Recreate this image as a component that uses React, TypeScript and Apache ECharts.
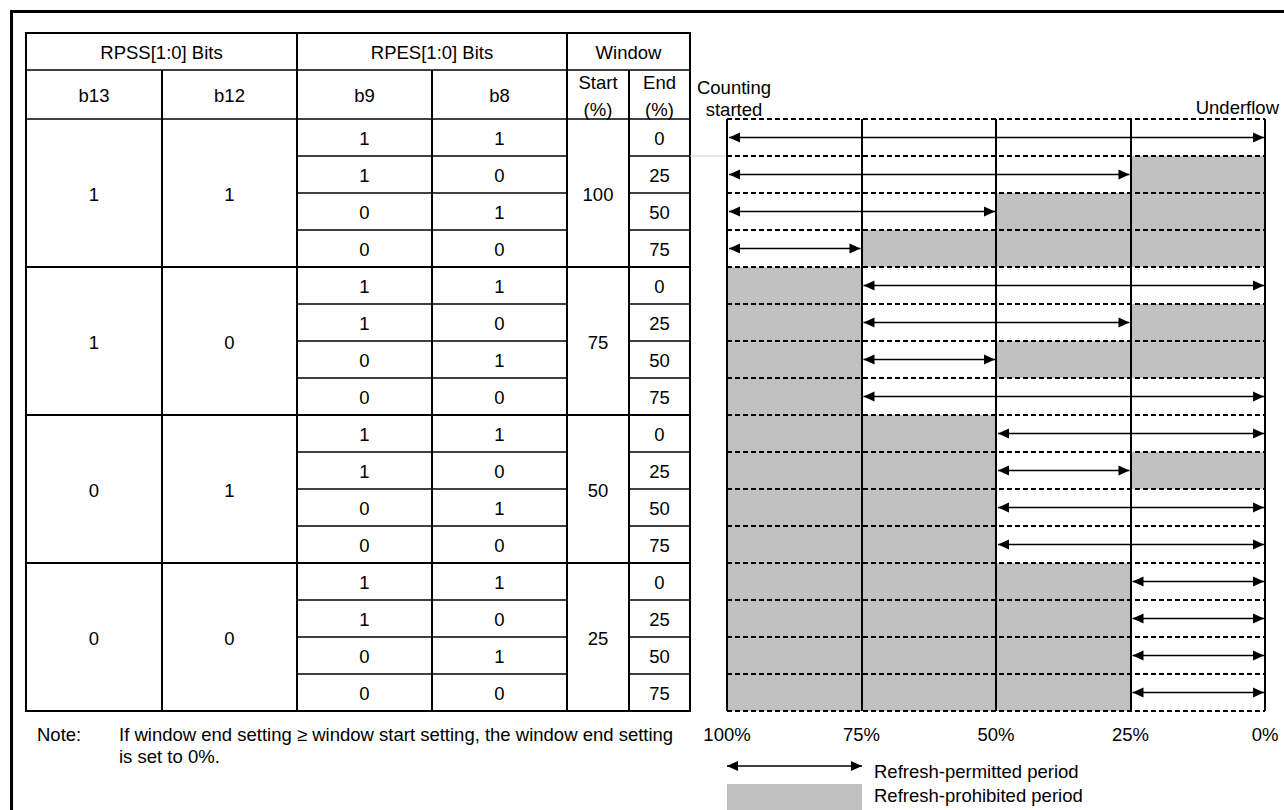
import React, { useEffect, useRef } from "react";
import * as echarts from "echarts";

// ---------- data ----------
const headerTop = ["RPSS[1:0] Bits", "RPES[1:0] Bits", "Window"];
const headerSub = ["b13", "b12", "b9", "b8", "Start\n(%)", "End\n(%)"];
const rpssB13 = [1, 1, 0, 0];
const rpssB12 = [1, 0, 1, 0];
const windowStart = [100, 75, 50, 25];
const rpesB9 = [1, 1, 0, 0];
const rpesB8 = [1, 0, 1, 0];
const windowEnd = [0, 25, 50, 75];
const xTicks = [100, 75, 50, 25, 0];
const legendLabels = ["Refresh-permitted period", "Refresh-prohibited period"];
const noteLines = [
  "If window end setting \u2265 window start setting, the window end setting",
  "is set to 0%.",
];

// ---------- layout ----------
const FONT = "Liberation Sans, Arial, sans-serif";
const FS = 18.5;
const colX = [26, 162, 297, 432, 567, 629, 690];
const T_TOP = 33;
const H1 = 70;
const H2 = 119;
const ROW_H = 37;
const GRID_L = 727;
const GRID_R = 1265;
const GRID_T = 119;
const GRID_H = 592;

// derived rows
type Row = { g: number; s: number; start: number; end: number; eff: number };
const rows: Row[] = [];
windowStart.forEach((st, g) => {
  windowEnd.forEach((en, s) => {
    rows.push({ g, s, start: st, end: en, eff: en >= st ? 0 : en });
  });
});
const rowCats = rows.map((r, i) => `${i}:${r.start}-${r.end}`);
const arrowData = rows.map((r, i) => [i, r.start, r.eff]);
const grayData: number[][] = [];
rows.forEach((r, i) => {
  if (r.start < 100) grayData.push([i, 100, r.start]);
  if (r.eff > 0) grayData.push([i, r.eff, 0]);
});

function txt(text: string, x: number, y: number, align = "center", extra: any = {}) {
  return {
    type: "text",
    x,
    y,
    silent: true,
    style: {
      text,
      fill: "#000",
      fontSize: FS,
      fontFamily: FONT,
      align,
      verticalAlign: "middle",
      ...extra,
    },
  };
}
function ln(x1: number, y1: number, x2: number, y2: number, w = 2, color = "#000") {
  return {
    type: "line",
    silent: true,
    shape: { x1, y1, x2, y2 },
    style: { stroke: color, lineWidth: w },
  };
}
function arrowEls(xl: number, xr: number, y: number) {
  return [
    { type: "line", shape: { x1: xl, y1: y, x2: xr, y2: y }, style: { stroke: "#000", lineWidth: 1.5 } },
    { type: "polygon", shape: { points: [[xl, y], [xl + 11, y - 5], [xl + 11, y + 5]] }, style: { fill: "#000" } },
    { type: "polygon", shape: { points: [[xr, y], [xr - 11, y - 5], [xr - 11, y + 5]] }, style: { fill: "#000" } },
  ];
}

function buildGraphic() {
  const els: any[] = [];
  // outer frame
  els.push({
    type: "rect",
    silent: true,
    shape: { x: 11.5, y: 11.5, width: 1300, height: 850 },
    style: { fill: "none", stroke: "#000", lineWidth: 3 },
  });
  const tL = colX[0];
  const tR = colX[colX.length - 1];
  const tB = H2 + ROW_H * rows.length;
  // table outer border
  els.push({
    type: "rect",
    silent: true,
    shape: { x: tL, y: T_TOP, width: tR - tL, height: tB - T_TOP },
    style: { fill: "none", stroke: "#000", lineWidth: 2 },
  });
  els.push(ln(tL, H1, tR, H1, 1.5));
  els.push(ln(tL, H2, tR, H2, 1.5));
  // group lines
  for (let g = 1; g < windowStart.length; g++) {
    const y = H2 + g * 4 * ROW_H;
    els.push(ln(tL, y, tR, y, 2));
  }
  // inner row lines
  rows.forEach((r, i) => {
    if (i === 0 || r.s === 0) return;
    const y = H2 + i * ROW_H;
    els.push(ln(colX[2], y, colX[4], y, 1.5));
    els.push(ln(colX[5], y, colX[6], y, 1.5));
  });
  // verticals
  els.push(ln(colX[1], H1, colX[1], tB, 2));
  els.push(ln(colX[2], T_TOP, colX[2], tB, 2));
  els.push(ln(colX[3], H1, colX[3], tB, 2));
  els.push(ln(colX[4], T_TOP, colX[4], tB, 2));
  els.push(ln(colX[5], H1, colX[5], tB, 2));
  // header texts
  els.push(txt(headerTop[0], (colX[0] + colX[2]) / 2, (T_TOP + H1) / 2 + 1));
  els.push(txt(headerTop[1], (colX[2] + colX[4]) / 2, (T_TOP + H1) / 2 + 1));
  els.push(txt(headerTop[2], (colX[4] + colX[6]) / 2, (T_TOP + H1) / 2 + 1));
  headerSub.forEach((h, i) => {
    els.push(txt(h, (colX[i] + colX[i + 1]) / 2, (H1 + H2) / 2 + 1, "center", { lineHeight: 27 }));
  });
  // group cells
  windowStart.forEach((st, g) => {
    const cy = H2 + g * 4 * ROW_H + 2 * ROW_H + 1;
    els.push(txt(String(rpssB13[g]), (colX[0] + colX[1]) / 2, cy));
    els.push(txt(String(rpssB12[g]), (colX[1] + colX[2]) / 2, cy));
    els.push(txt(String(st), (colX[4] + colX[5]) / 2, cy));
  });
  rows.forEach((r, i) => {
    const cy = H2 + i * ROW_H + ROW_H / 2 + 1;
    els.push(txt(String(rpesB9[r.s]), (colX[2] + colX[3]) / 2, cy));
    els.push(txt(String(rpesB8[r.s]), (colX[3] + colX[4]) / 2, cy));
    els.push(txt(String(r.end), (colX[5] + colX[6]) / 2, cy));
  });
  // faint connector line
  els.push(ln(tR, H2 + ROW_H, GRID_L, H2 + ROW_H, 1, "#d0d0d0"));
  // chart labels
  els.push(txt("Counting", 734, 87));
  els.push(txt("started", 734, 109));
  els.push(txt("Underflow", 1279, 107, "right"));
  // note
  els.push(txt("Note:", 37, 734, "left"));
  els.push(txt(noteLines[0], 119, 734, "left"));
  els.push(txt(noteLines[1], 119, 756, "left"));
  // legend
  els.push({ type: "group", silent: true, children: arrowEls(727, 862, 766) });
  els.push({
    type: "rect",
    silent: true,
    shape: { x: 727, y: 784, width: 135, height: 26 },
    style: { fill: "#c0c0c0" },
  });
  els.push(txt(legendLabels[0], 874, 771, "left"));
  els.push(txt(legendLabels[1], 874, 795, "left"));
  return els;
}

export default function App() {
  const ref = useRef<HTMLDivElement>(null);
  useEffect(() => {
    if (!ref.current) return;
    const chart = echarts.init(ref.current, undefined, { renderer: "svg" });
    chart.setOption({
      animation: false,
      backgroundColor: "#fff",
      grid: { left: GRID_L, top: GRID_T, width: GRID_R - GRID_L, height: GRID_H, containLabel: false },
      xAxis: {
        type: "value",
        min: 0,
        max: 100,
        interval: 25,
        inverse: true,
        z: 3,
        axisLine: { show: false },
        axisTick: { show: false },
        axisLabel: {
          show: true,
          margin: 14,
          color: "#000",
          fontSize: FS,
          fontFamily: FONT,
          formatter: (v: number) => (xTicks.includes(v) ? `${v}%` : ""),
        },
        splitLine: { show: true, lineStyle: { color: "#000", width: 2, type: "solid" } },
      },
      yAxis: {
        type: "category",
        data: rowCats,
        inverse: true,
        z: 3,
        axisLine: { show: false },
        axisTick: { show: false },
        axisLabel: { show: false },
        splitLine: {
          show: true,
          interval: 0,
          lineStyle: { color: "#000", width: 2, type: [5, 3] },
        },
      },
      graphic: { elements: buildGraphic() },
      series: [
        {
          type: "custom",
          name: "prohibited",
          z: 1,
          silent: true,
          encode: { x: [1, 2], y: 0 },
          data: grayData,
          renderItem: (params: any, api: any) => {
            const row = api.value(0);
            const p1 = api.coord([api.value(1), row]);
            const p2 = api.coord([api.value(2), row]);
            const h = api.size([0, 1])[1];
            return {
              type: "rect",
              shape: {
                x: Math.min(p1[0], p2[0]),
                y: p1[1] - h / 2,
                width: Math.abs(p2[0] - p1[0]),
                height: h,
              },
              style: { fill: "#c0c0c0" },
            };
          },
        },
        {
          type: "custom",
          name: "permitted",
          z: 5,
          silent: true,
          encode: { x: [1, 2], y: 0 },
          data: arrowData,
          renderItem: (params: any, api: any) => {
            const row = api.value(0);
            const p1 = api.coord([api.value(1), row]);
            const p2 = api.coord([api.value(2), row]);
            const xl = Math.min(p1[0], p2[0]) + 2;
            const xr = Math.max(p1[0], p2[0]) - 1;
            return { type: "group", children: arrowEls(xl, xr, p1[1]) };
          },
        },
      ],
    });
    return () => chart.dispose();
  }, []);
  return (
    <div
      ref={ref}
      style={{ position: "fixed", left: 0, top: 0, width: 1284, height: 810, background: "#fff" }}
    />
  );
}
